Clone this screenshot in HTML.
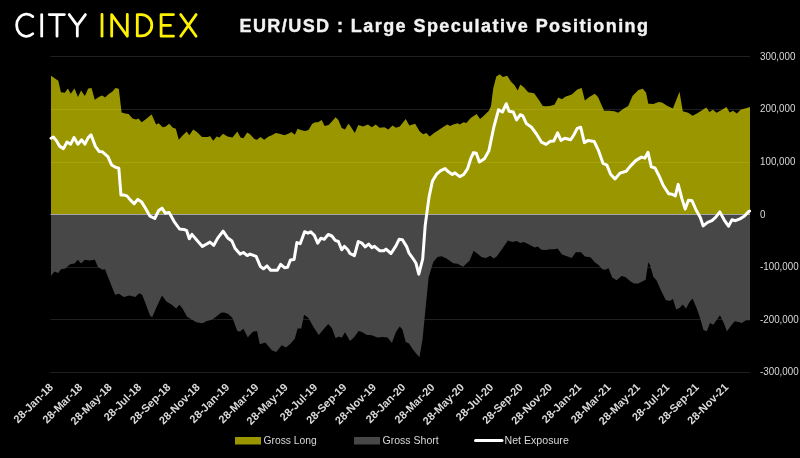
<!DOCTYPE html>
<html><head><meta charset="utf-8"><style>
html,body{margin:0;padding:0;background:#000;}
body{width:800px;height:458px;overflow:hidden;}
svg{display:block;will-change:transform;}
.yl{font-family:"Liberation Sans",sans-serif;font-size:9.8px;fill:#d9d9d9;}
.xl{font-family:"Liberation Sans",sans-serif;font-size:11px;font-weight:bold;fill:#d9d9d9;text-anchor:end;}
.lg{font-family:"Liberation Sans",sans-serif;font-size:11px;fill:#d9d9d9;}
.ti{font-family:"Liberation Sans",sans-serif;font-size:18px;font-weight:bold;fill:#f2f2f2;stroke:#f2f2f2;stroke-width:0.4px;}
</style></head><body>
<svg width="800" height="458" viewBox="0 0 800 458">
<rect width="800" height="458" fill="#000"/>
<line x1="50.5" y1="56.5" x2="750" y2="56.5" stroke="#202020" stroke-width="1"/>
<line x1="50.5" y1="109.5" x2="750" y2="109.5" stroke="#202020" stroke-width="1"/>
<line x1="50.5" y1="162.5" x2="750" y2="162.5" stroke="#202020" stroke-width="1"/>
<line x1="50.5" y1="267.5" x2="750" y2="267.5" stroke="#202020" stroke-width="1"/>
<line x1="50.5" y1="319.5" x2="750" y2="319.5" stroke="#202020" stroke-width="1"/>
<line x1="50.5" y1="372.5" x2="750" y2="372.5" stroke="#202020" stroke-width="1"/>
<polygon points="51.0,75.7 51.1,75.7 58.3,80.7 60.9,92.3 64.8,92.8 67.9,88.4 70.7,93.8 74.5,88.4 78.0,97.1 81.0,90.6 84.9,96.0 88.2,88.4 91.5,87.9 94.8,99.7 99.1,96.7 102.4,95.4 105.0,97.6 109.0,93.8 112.2,91.7 115.5,88.0 118.8,88.8 121.6,112.4 125.3,113.5 128.6,114.1 132.5,118.5 136.2,119.4 138.4,118.5 141.7,122.2 146.1,119.0 150.0,115.7 151.7,114.6 156.1,124.4 158.7,123.3 162.7,127.2 165.7,126.6 169.2,123.8 172.9,127.7 175.8,128.8 178.8,139.7 182.8,135.3 186.7,131.6 189.3,135.3 193.2,129.4 196.9,132.0 202.0,136.9 207.9,136.9 210.0,136.0 213.3,140.8 216.6,136.4 219.4,137.5 223.1,133.8 227.5,136.4 232.5,137.5 237.3,131.6 240.6,137.5 243.4,138.2 247.2,132.5 250.0,134.2 254.4,139.0 257.0,139.7 260.5,136.9 264.2,139.7 268.6,136.4 271.8,135.3 275.8,133.1 279.5,133.8 284.5,135.3 288.2,133.8 291.5,132.0 294.8,134.7 297.6,128.8 300.7,129.9 305.0,131.0 308.5,129.9 312.2,123.8 315.5,122.2 318.1,122.2 321.6,120.0 324.7,125.9 328.6,125.1 331.9,121.6 335.6,117.2 338.4,120.0 341.7,128.1 345.0,129.4 348.3,123.8 350.0,125.5 354.8,133.1 358.3,125.1 363.1,126.6 367.9,124.4 371.8,127.2 375.8,124.4 379.5,127.7 384.5,127.2 388.2,129.4 392.6,125.5 395.9,127.7 399.8,126.6 405.7,119.0 409.4,125.5 415.1,123.8 419.4,131.0 423.1,134.2 426.4,133.1 429.7,136.4 434.1,133.1 438.4,130.3 442.8,127.2 447.2,124.4 450.0,125.9 453.3,124.4 457.6,123.3 459.8,124.4 463.5,122.2 466.4,122.9 470.7,117.9 476.6,114.1 480.1,119.0 483.8,115.7 488.9,110.7 491.0,105.9 493.2,88.4 496.3,76.4 499.8,74.2 502.8,77.0 507.2,75.7 511.1,81.8 514.4,85.1 517.7,90.6 520.3,84.5 523.8,87.3 528.2,92.3 534.1,93.2 538.4,99.3 542.8,105.9 546.1,106.3 550.0,105.9 554.4,104.8 558.3,97.6 562.0,99.3 565.3,96.7 571.8,94.5 577.3,89.5 581.7,87.9 584.9,100.4 589.3,97.1 594.8,93.8 598.0,97.1 604.1,110.7 609.0,110.7 614.4,111.3 618.1,112.8 623.1,109.1 628.2,105.9 632.5,96.0 638.4,90.1 642.8,88.8 646.1,92.8 648.3,103.7 650.0,103.7 653.3,104.1 658.7,101.9 662.0,102.6 667.5,105.9 672.9,108.5 679.5,91.7 682.8,111.3 688.2,112.8 692.6,115.7 696.9,113.5 701.3,110.7 706.3,107.6 709.4,112.0 712.9,109.8 716.6,112.8 722.0,109.8 726.4,106.9 729.7,112.4 733.0,110.7 736.9,113.5 740.6,109.8 745.0,108.5 750.0,107.0 750,214.5 51,214.5" fill="rgba(255,250,0,0.6)"/>
<polygon points="51,214.5 51.0,275.8 51.1,275.8 54.4,271.4 58.3,272.9 60.9,269.2 65.3,268.6 70.1,264.2 74.5,263.5 77.9,259.8 81.0,263.5 84.9,259.8 89.3,260.5 94.8,259.8 98.0,267.0 102.4,269.7 105.0,269.2 109.4,280.6 115.1,294.8 118.8,293.7 123.8,296.9 129.7,295.4 135.2,296.9 139.1,293.2 142.1,294.8 145.6,303.5 150.0,315.5 152.2,317.2 156.6,306.9 162.0,295.4 166.4,301.5 171.8,304.8 176.2,308.5 179.5,304.8 182.8,309.1 187.1,316.8 192.6,320.0 196.3,322.2 202.4,323.3 206.8,321.1 211.1,320.0 215.5,317.2 221.0,312.8 224.2,312.4 228.2,314.1 232.5,317.9 237.3,331.0 240.0,331.6 243.4,328.8 247.8,337.5 250.0,334.7 253.3,331.6 257.0,331.1 259.8,344.2 265.3,342.5 268.6,346.4 271.8,350.3 276.2,351.9 281.7,345.3 286.0,347.5 290.4,343.8 294.8,338.8 297.6,328.5 301.3,328.5 304.1,314.8 308.5,318.0 313.3,326.8 318.8,335.1 324.2,328.5 328.2,324.1 331.9,327.9 335.6,338.1 339.1,336.6 341.7,337.7 345.0,332.2 350.0,341.0 353.9,337.5 358.7,331.0 362.0,332.0 366.4,334.7 371.8,335.3 377.3,337.5 382.8,336.9 387.6,337.5 391.9,343.0 395.9,332.0 399.8,326.6 402.4,329.4 405.7,341.9 409.0,343.4 412.2,348.4 415.5,352.8 419.4,357.2 422.5,339.7 426.0,303.7 428.6,277.5 433.3,262.0 437.5,257.0 441.6,256.3 446.5,258.4 450.0,261.0 453.3,263.2 457.6,263.8 463.1,266.7 469.7,260.6 473.6,250.7 477.3,253.6 481.7,257.3 486.0,257.9 490.4,255.8 493.7,258.4 496.9,256.2 502.4,248.6 507.9,240.5 512.2,242.0 516.6,240.9 520.3,243.1 523.8,242.0 528.6,244.2 534.7,247.5 537.8,246.4 541.3,249.7 546.1,250.1 550.0,249.2 554.4,249.2 557.6,248.6 562.0,254.5 567.0,256.2 571.8,257.9 575.8,252.3 581.0,252.3 584.9,256.6 590.4,257.3 594.8,262.3 599.1,265.4 602.4,269.3 605.0,269.7 608.5,268.2 612.2,277.6 616.6,280.2 621.6,275.9 625.3,276.9 630.3,281.3 634.1,283.5 638.4,283.5 645.6,279.8 648.3,262.3 650.0,265.0 653.3,276.7 656.6,280.4 660.9,290.2 665.7,300.0 669.7,301.1 672.9,299.0 676.2,309.4 679.5,308.1 682.8,304.4 686.0,308.8 689.3,302.2 692.6,298.5 696.9,308.8 700.2,318.6 703.5,330.0 706.8,331.3 710.0,323.0 713.3,324.7 719.9,315.3 723.8,323.0 726.9,331.3 731.2,325.6 734.7,321.2 738.4,321.9 741.7,323.0 746.1,320.3 750.0,320.3 750,214.5" fill="#474747"/>
<line x1="50.5" y1="214.5" x2="750" y2="214.5" stroke="#a4a4ac" stroke-width="1"/>
<polyline points="51.1,138.3 53.3,137.0 56.6,140.9 59.8,146.4 63.5,148.6 67.0,142.0 70.7,144.2 74.0,137.6 77.9,144.2 81.7,139.8 84.9,144.2 88.2,137.6 91.0,134.8 95.4,146.4 99.1,151.4 102.4,151.8 107.9,156.6 111.6,164.9 115.1,167.1 118.8,168.2 121.0,195.1 124.2,195.1 126.9,195.9 130.3,199.9 134.1,203.8 137.8,199.4 141.7,202.1 145.0,207.5 150.0,216.2 154.8,218.5 158.7,210.4 162.0,208.2 165.3,213.2 169.2,212.6 174.0,221.3 179.5,229.0 183.8,229.4 186.7,230.7 189.3,238.8 191.9,234.4 196.9,240.3 202.4,246.4 206.3,244.2 210.0,242.1 213.8,245.3 217.7,238.1 223.1,231.1 227.5,237.7 231.9,241.0 235.2,248.6 240.0,254.1 243.4,252.5 247.2,255.6 250.0,254.1 256.1,256.3 260.5,266.6 263.5,268.8 267.0,265.9 270.7,270.3 277.3,270.3 280.6,264.4 284.5,267.7 287.6,267.2 290.4,260.0 294.1,259.4 296.9,242.6 300.2,243.7 304.6,231.7 307.9,233.2 310.7,231.7 314.4,235.4 317.7,243.2 321.0,238.2 324.2,239.3 328.2,234.5 331.9,236.0 335.2,240.4 338.4,241.5 341.7,249.8 344.3,246.3 347.8,249.8 350.0,253.5 354.4,255.7 358.3,241.5 362.0,243.2 365.3,246.9 368.6,244.1 371.8,247.6 374.5,246.3 379.5,250.7 383.8,250.7 386.0,249.1 391.0,253.5 395.9,245.9 399.1,239.3 402.4,239.7 406.8,246.9 409.0,253.0 413.3,259.0 415.9,263.0 418.8,274.2 422.7,259.0 425.2,225.4 429.1,196.6 432.5,180.9 436.4,174.4 440.7,170.7 445.1,168.6 448.4,171.8 452.3,174.5 454.9,172.9 459.7,176.6 463.7,174.5 467.6,168.6 470.7,158.7 473.5,152.6 476.3,153.3 479.4,162.0 484.4,158.7 488.8,151.1 493.7,127.7 498.5,109.8 502.4,112.0 506.3,103.7 509.0,111.3 513.3,112.0 516.6,120.0 520.3,114.7 522.8,115.9 526.4,123.6 531.6,127.3 536.5,134.0 541.5,142.2 546.1,144.4 550.3,141.3 553.8,141.0 557.6,132.8 561.0,140.4 564.8,138.2 570.7,139.7 574.1,134.5 577.2,128.4 580.7,127.3 584.4,142.6 588.1,140.4 594.2,141.5 598.2,149.8 603.0,163.3 606.9,165.1 610.6,174.2 615.0,179.0 620.0,173.1 626.2,171.3 630.6,165.9 636.0,160.4 641.5,157.1 644.8,158.2 648.0,152.3 651.3,166.9 655.0,168.0 659.0,175.7 663.3,185.5 668.8,193.8 672.1,194.2 675.3,196.0 678.2,184.4 681.9,198.6 685.2,209.1 688.4,200.3 692.1,200.8 696.1,210.0 700.3,217.5 703.2,225.9 707.6,222.4 711.9,220.7 715.8,217.2 719.8,211.9 724.1,219.8 728.5,226.2 732.0,219.8 735.5,220.7 739.9,218.9 744.2,216.3 748.6,211.6 749.6,211.0" fill="none" stroke="#fff" stroke-width="3" stroke-linejoin="round" stroke-linecap="round"/>
<text transform="translate(760,59.5) scale(1,1.05)" class="yl">300,000</text>
<text transform="translate(760,111.5) scale(1,1.05)" class="yl">200,000</text>
<text transform="translate(760,164.5) scale(1,1.05)" class="yl">100,000</text>
<text transform="translate(760,217.5) scale(1,1.05)" class="yl">0</text>
<text transform="translate(760,269.5) scale(1,1.05)" class="yl">-100,000</text>
<text transform="translate(760,322.5) scale(1,1.05)" class="yl">-200,000</text>
<text transform="translate(760,374.5) scale(1,1.05)" class="yl">-300,000</text>
<text class="xl" transform="translate(53.9,387.8) rotate(-45)">28-Jan-18</text>
<text class="xl" transform="translate(83.2,387.8) rotate(-45)">28-Mar-18</text>
<text class="xl" transform="translate(112.6,387.8) rotate(-45)">28-May-18</text>
<text class="xl" transform="translate(142.0,387.8) rotate(-45)">28-Jul-18</text>
<text class="xl" transform="translate(171.3,387.8) rotate(-45)">28-Sep-18</text>
<text class="xl" transform="translate(200.7,387.8) rotate(-45)">28-Nov-18</text>
<text class="xl" transform="translate(230.0,387.8) rotate(-45)">28-Jan-19</text>
<text class="xl" transform="translate(259.4,387.8) rotate(-45)">28-Mar-19</text>
<text class="xl" transform="translate(288.7,387.8) rotate(-45)">28-May-19</text>
<text class="xl" transform="translate(318.1,387.8) rotate(-45)">28-Jul-19</text>
<text class="xl" transform="translate(347.4,387.8) rotate(-45)">28-Sep-19</text>
<text class="xl" transform="translate(376.8,387.8) rotate(-45)">28-Nov-19</text>
<text class="xl" transform="translate(406.1,387.8) rotate(-45)">28-Jan-20</text>
<text class="xl" transform="translate(435.4,387.8) rotate(-45)">28-Mar-20</text>
<text class="xl" transform="translate(464.8,387.8) rotate(-45)">28-May-20</text>
<text class="xl" transform="translate(494.1,387.8) rotate(-45)">28-Jul-20</text>
<text class="xl" transform="translate(523.5,387.8) rotate(-45)">28-Sep-20</text>
<text class="xl" transform="translate(552.9,387.8) rotate(-45)">28-Nov-20</text>
<text class="xl" transform="translate(582.2,387.8) rotate(-45)">28-Jan-21</text>
<text class="xl" transform="translate(611.5,387.8) rotate(-45)">28-Mar-21</text>
<text class="xl" transform="translate(640.9,387.8) rotate(-45)">28-May-21</text>
<text class="xl" transform="translate(670.2,387.8) rotate(-45)">28-Jul-21</text>
<text class="xl" transform="translate(699.6,387.8) rotate(-45)">28-Sep-21</text>
<text class="xl" transform="translate(729.0,387.8) rotate(-45)">28-Nov-21</text>
<rect x="235" y="437" width="26" height="7.5" fill="#999600"/>
<text x="263.5" y="444.3" class="lg" textLength="53.3" lengthAdjust="spacingAndGlyphs">Gross Long</text>
<rect x="354" y="437" width="26" height="7.5" fill="#474747"/>
<text x="382.5" y="444.3" class="lg" textLength="56.3" lengthAdjust="spacingAndGlyphs">Gross Short</text>
<line x1="475.5" y1="440.5" x2="502" y2="440.5" stroke="#fff" stroke-width="3" stroke-linecap="round"/>
<text x="504.5" y="444.3" class="lg" textLength="64.3" lengthAdjust="spacingAndGlyphs">Net Exposure</text>
<path d="M 32.8 16.6 A 9.9 11.1 0 1 0 32.8 33.8" stroke="#fff" stroke-width="2.8" fill="none" stroke-linecap="round" stroke-linejoin="round"/>
<path d="M 41.7 14.6 V 36.2" stroke="#fff" stroke-width="2.8" fill="none" stroke-linecap="round" stroke-linejoin="round"/>
<path d="M 49.2 14.6 H 64.4 M 57 14.6 V 36.2" stroke="#fff" stroke-width="2.8" fill="none" stroke-linecap="round" stroke-linejoin="round"/>
<path d="M 69.2 14.6 L 77.3 25.6 L 85.4 14.6 M 77.3 25.6 V 36.2" stroke="#fff" stroke-width="2.8" fill="none" stroke-linecap="round" stroke-linejoin="round"/>
<path d="M 102 14.4 V 36.2" stroke="#fff200" stroke-width="2.8" fill="none" stroke-linecap="round" stroke-linejoin="round"/>
<path d="M 111.7 36.2 V 14.6 L 127.3 36.2 V 14.4" stroke="#fff200" stroke-width="2.8" fill="none" stroke-linecap="round" stroke-linejoin="round"/>
<path d="M 137.3 14.6 V 35.9 H 141.5 A 10.3 10.65 0 0 0 141.5 14.6 Z" stroke="#fff200" stroke-width="2.8" fill="none" stroke-linecap="round" stroke-linejoin="round"/>
<path d="M 173.5 14.6 H 161.1 V 36.2 H 173.5 M 161.1 25.4 H 170.5" stroke="#fff200" stroke-width="2.8" fill="none" stroke-linecap="round" stroke-linejoin="round"/>
<path d="M 180.7 14.6 L 196.1 36.2 M 196.1 14.6 L 180.7 36.2" stroke="#fff200" stroke-width="2.8" fill="none" stroke-linecap="round" stroke-linejoin="round"/>
<text x="239.5" y="31.8" class="ti" textLength="408.5" lengthAdjust="spacing">EUR/USD : Large Speculative Positioning</text>
</svg>
</body></html>
